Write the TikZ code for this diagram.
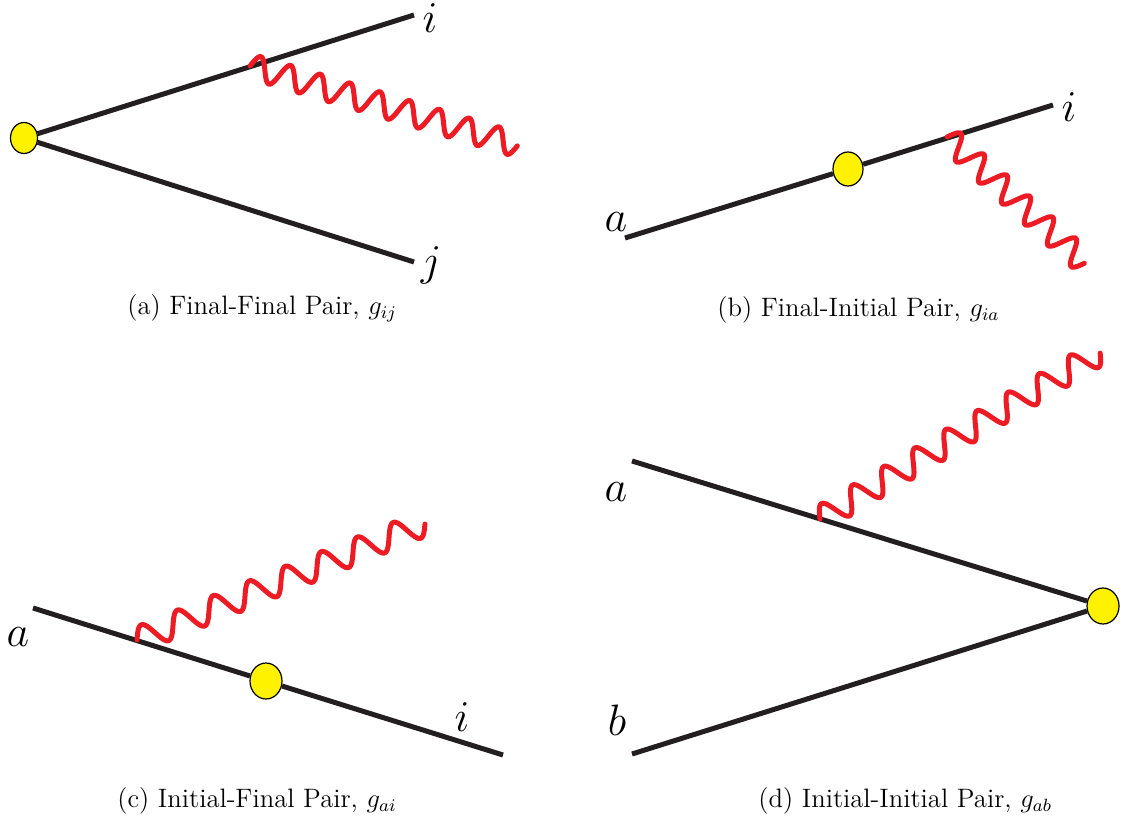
\documentclass[tikz,border=0pt]{standalone}
\usetikzlibrary{shapes.geometric}
\definecolor{fline}{HTML}{231F20}
\definecolor{phot}{HTML}{ED1C24}
\definecolor{blobc}{HTML}{FFF200}
\newcommand\captxt[1]{\scalebox{1.11}{\fontsize{12}{14}\selectfont #1}}
\newcommand\labtxt[1]{\scalebox{1.06}{\fontsize{20.74}{25}\selectfont #1}}
\tikzset{
  fermion/.style={draw=fline, line width=2.5pt},
  photonline/.style={draw=phot, line width=2.5pt, line cap=round, line join=round},
  blob/.style={ellipse, draw=black, line width=0.6pt, fill=blobc, inner sep=0pt},
  lab/.style={inner sep=0pt},
  capt/.style={inner sep=0pt, anchor=west}
}
% #1 xa #2 ya #3 xb #4 yb #5 periods #6 amplitude (image px)
\newcommand\photonwave[6]{%
  \draw[photonline] plot[domain=0:1, samples=400, variable=\t]
   ({#1+(#3-#1)*\t+#6*sin(360*#5*\t)*(#4-#2)/veclen(#3-#1,#4-#2)},
    {#2+(#4-#2)*\t-#6*sin(360*#5*\t)*(#3-#1)/veclen(#3-#1,#4-#2)});
}
\begin{document}
\begin{tikzpicture}[x=0.5pt, y=-0.5pt]
\useasboundingbox (0,0) rectangle (1127,817);
% ---------------- (a)
\coordinate (ai) at (414,15);
\coordinate (aj) at (414,262);
\node[blob, minimum width=13.5pt, minimum height=15.5pt] (va) at (24,138) {};
\draw[fermion] (va) -- (ai);
\draw[fermion] (va) -- (aj);
\photonwave{250}{66}{518}{145}{9}{12}
\node[lab] (lai) at (430,18) {\labtxt{$i$}};
\node[lab] (laj) at (431,265) {\labtxt{$j$}};
\node[capt] (capa) at (127,308) {\captxt{(a) Final-Final Pair, $g_{ij}$}};
% ---------------- (b)
\coordinate (ba) at (625,238);
\coordinate (bi) at (1053,105);
\node[blob, minimum width=15pt, minimum height=17pt] (vb) at (848,169) {};
\draw[fermion] (ba) -- (vb);
\draw[fermion] (vb) -- (bi);
\photonwave{947}{137}{1085}{263}{6}{12}
\node[lab] (lba) at (616,222) {\labtxt{$a$}};
\node[lab] (lbi) at (1069,107) {\labtxt{$i$}};
\node[capt] (capb) at (717,310) {\captxt{(b) Final-Initial Pair, $g_{ia}$}};
% ---------------- (c)
\coordinate (ca) at (33,608);
\coordinate (ci) at (503,755);
\node[blob, minimum width=16pt, minimum height=18pt] (vc) at (266,681) {};
\draw[fermion] (ca) -- (vc);
\draw[fermion] (vc) -- (ci);
\photonwave{137}{640}{425}{523}{8}{12.5}
\node[lab] (lca) at (18,637) {\labtxt{$a$}};
\node[lab] (lci) at (462,717) {\labtxt{$i$}};
\node[capt] (capc) at (117,801) {\captxt{(c) Initial-Final Pair, $g_{ai}$}};
% ---------------- (d)
\coordinate (da) at (632,461);
\coordinate (db) at (632,754);
\node[blob, minimum width=16pt, minimum height=18pt] (vd) at (1103,606) {};
\draw[fermion] (da) -- (vd);
\draw[fermion] (db) -- (vd);
\photonwave{820}{519}{1100}{352}{9}{12.5}
\node[lab] (lda) at (616,492) {\labtxt{$a$}};
\node[lab] (ldb) at (617,720) {\labtxt{$b$}};
\node[capt] (capd) at (758,801) {\captxt{(d) Initial-Initial Pair, $g_{ab}$}};
\end{tikzpicture}
\end{document}
